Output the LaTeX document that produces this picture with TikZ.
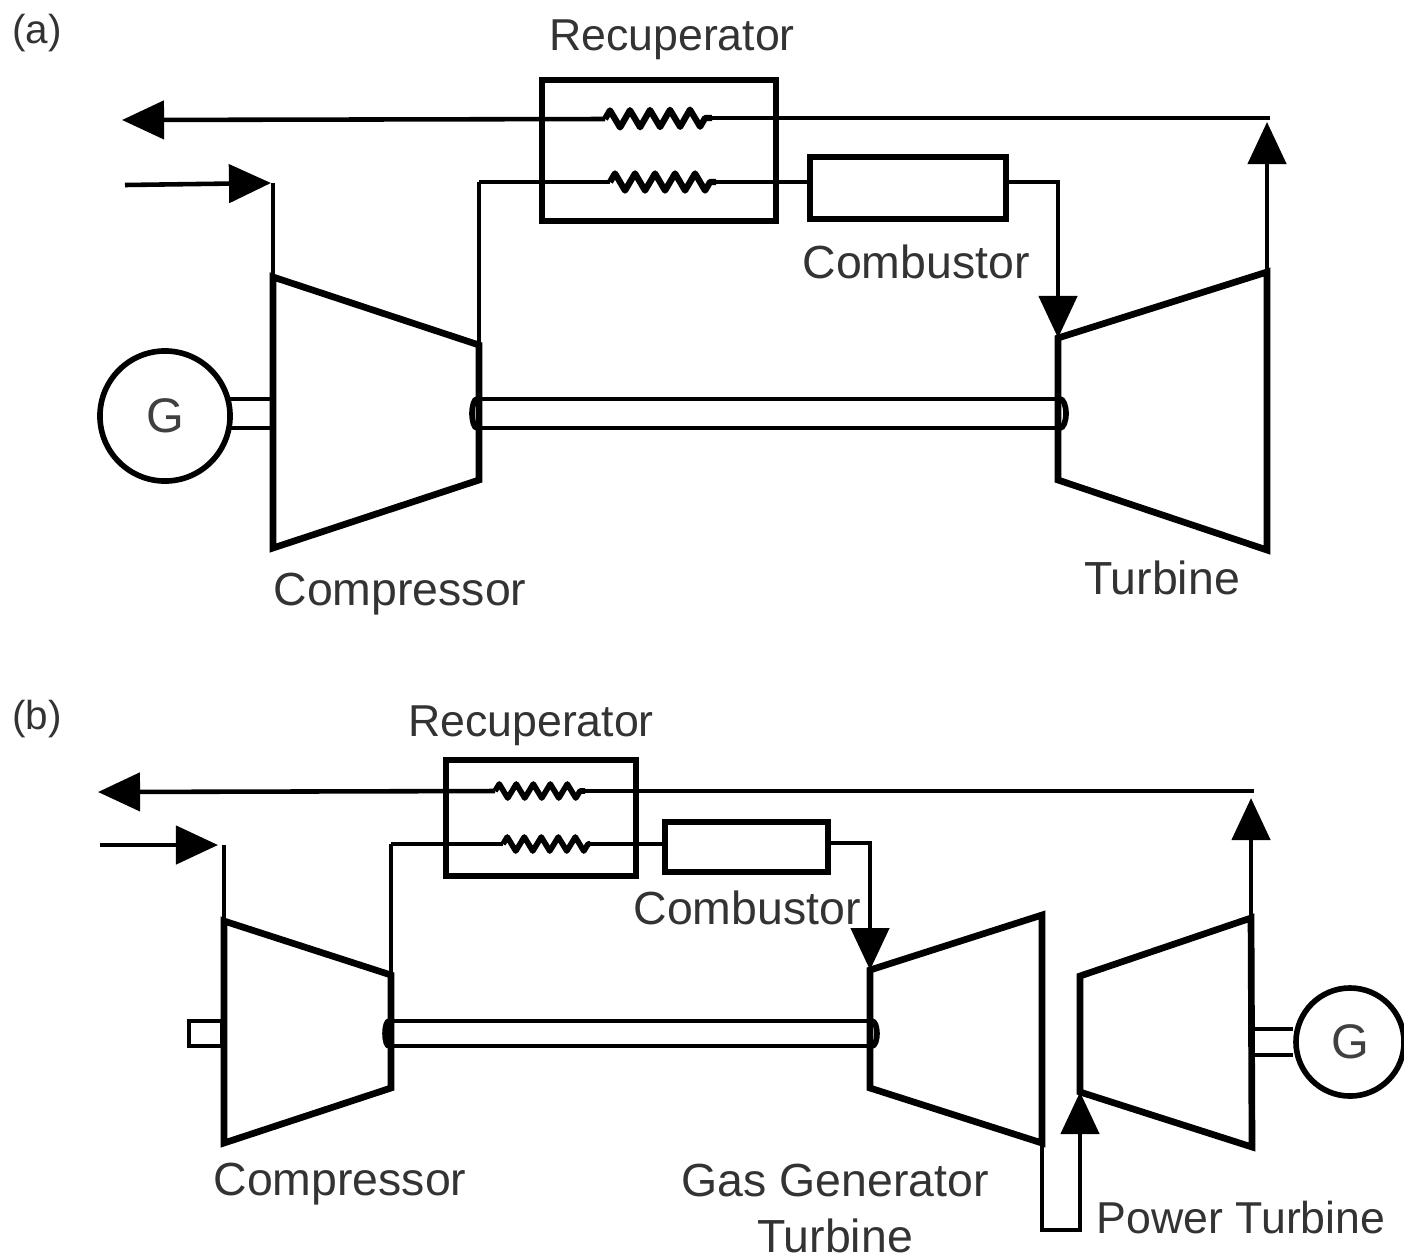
\documentclass[tikz,border=0pt]{standalone}
\usepackage{fontspec}
\setmainfont{Liberation Sans}
\usetikzlibrary{arrows.meta, decorations.pathmorphing}

\begin{document}
\begin{tikzpicture}
  [x=.01cm,y=-.01cm,
   tag/.style={font=\fontsize{13.2}{15}\selectfont,text=black!80,inner sep=0pt},
   tagsm/.style={tag,font=\fontsize{12.7}{15}\selectfont},
   panel/.style={tag,font=\fontsize{11.5}{15}\selectfont},
   pipe/.style={line width=1.3pt},
   casing/.style={line width=1.9pt,line join=miter},
   stub/.style={line width=1.2pt},
   blob/.style={line width=1.6pt},
   flow/.style={pipe,-{Triangle[length=.42cm,width=.38cm]}},
   coil/.style={line width=1.8pt,line join=round,decorate,
     decoration={zigzag,segment length=.2cm,amplitude=.085cm}},
   coilsm/.style={coil,line width=1.6pt,
     decoration={zigzag,segment length=.17cm,amplitude=.07cm}},
   box/.style={draw,line width=1.9pt,inner sep=0pt},
   gen/.style={draw,circle,line width=1.6pt,inner sep=0pt,text=black!75,
     font=\fontsize{13.8}{15}\selectfont}]
  \useasboundingbox (0,0) rectangle (1404,1257);

  % (a)
  \node[panel] (la) at (37,33) {(a)};
  \node[tagsm] (recupa) at (672,40) {Recuperator};
  \node[tag] (combua) at (916,262) {Combustor};
  \node[tag] (compa) at (400,594) {Compressor};
  \node[tag] (turba) at (1162,578) {Turbine};
  \node[box,minimum width=2.34cm,minimum height=1.41cm] (hxa) at (659,150.5) {};
  \node[box,minimum width=1.96cm,minimum height=.62cm] (cba) at (908,188) {};
  \node[gen,minimum size=1.3cm] (ga) at (165,416) {G};

  \coordinate (a1) at (273,277);
  \coordinate (a2) at (479,345);
  \coordinate (a3) at (479,480);
  \coordinate (a4) at (273,548);
  \coordinate (a5) at (1058,338);
  \coordinate (a6) at (1267,272);
  \coordinate (a7) at (1267,550);
  \coordinate (a8) at (1058,480);
  \draw[casing] (a1) -- (a2) -- (a3) -- (a4) -- cycle;
  \draw[casing] (a5) -- (a6) -- (a7) -- (a8) -- cycle;

  \coordinate (ain) at (125,185);
  \coordinate (aint) at (271,183);
  \coordinate (ainb) at (273,183);
  \coordinate (aout) at (122,120);
  \coordinate (acl) at (605,119);
  \coordinate (acr) at (712,118);
  \coordinate (ajn) at (1270,118);
  \coordinate (aup) at (1267,122);
  \coordinate (abl) at (479,182);
  \coordinate (adl) at (610,182);
  \coordinate (adr) at (716,182);
  \coordinate (acbi) at (810,182);
  \coordinate (acbx) at (1006,182);
  \coordinate (acbo) at (1058,182);
  \draw[flow] (ain) -- (aint);
  \draw[flow] (acl) -- (aout);
  \draw[flow] (a6) -- (aup);
  \draw[flow] (acbx) -- (acbo) -- (a5);
  \draw[coil] (acl) -- (acr);
  \draw[coil] (adl) -- (adr);
  \foreach \src/\dst in {ainb/a1,acr/ajn,a2/abl,abl/adl,adr/acbi}
    \draw[pipe,line cap=square] (\src) -- (\dst);

  % shaft
  \draw[stub] (479,399) -- (1058,399);
  \draw[stub] (479,428) -- (1058,428);
  \draw[blob] (477,399) arc[start angle=90,end angle=270,x radius=5,y radius=-14.5];
  \draw[blob] (1060,399) arc[start angle=90,end angle=-90,x radius=6,y radius=-14.5];
  \draw[stub] (ga.east |- 0,399) ++(-6,0) -- (273,399);
  \draw[stub] (ga.east |- 0,428) ++(-6,0) -- (273,428);

  % (b)
  \node[panel] (lb) at (37,719) {(b)};
  \node[tagsm] (recupb) at (531,726) {Recuperator};
  \node[tag] (combub) at (747,908) {Combustor};
  \node[tag] (compb) at (340,1184) {Compressor};
  \node[tag] (ggt) at (835,1180) {Gas Generator};
  \node[tag] (ggtb) at (835,1236) {Turbine};
  \node[tagsm] (pt) at (1241,1218) {Power Turbine};
  \node[box,minimum width=1.9cm,minimum height=1.16cm] (hxb) at (541,818) {};
  \node[box,minimum width=1.63cm,minimum height=.5cm] (cbb) at (746.5,847) {};
  \node[gen,minimum size=1.08cm] (gb) at (1350,1042) {G};
  \node[draw,stub,minimum width=.33cm,minimum height=.25cm,inner sep=0pt] (stb) at (205.5,1033.5) {};

  \coordinate (b1) at (224,921);
  \coordinate (b2) at (391,975);
  \coordinate (b3) at (391,1088);
  \coordinate (b4) at (224,1143);
  \coordinate (b5) at (870,970);
  \coordinate (b6) at (1042,915);
  \coordinate (b7) at (1042,1143);
  \coordinate (b8) at (870,1088);
  \coordinate (b9) at (1080,976);
  \coordinate (b10) at (1251,918);
  \coordinate (b11) at (1252,1147);
  \coordinate (b12) at (1080,1092);
  \draw[casing] (b1) -- (b2) -- (b3) -- (b4) -- cycle;
  \draw[casing] (b5) -- (b6) -- (b7) -- (b8) -- cycle;
  \draw[casing] (b9) -- (b10) -- (b11) -- (b12) -- cycle;

  \coordinate (bin) at (100,845);
  \coordinate (bint) at (218,845);
  \coordinate (binb) at (224,845);
  \coordinate (bout) at (98,792);
  \coordinate (bcl) at (495,791);
  \coordinate (bcr) at (585,791);
  \coordinate (bjn) at (1254,791);
  \coordinate (bup) at (1251,798);
  \coordinate (bbl) at (391,844);
  \coordinate (bdl) at (503,844);
  \coordinate (bdr) at (590,844);
  \coordinate (bcbi) at (665,844);
  \coordinate (bcbx) at (828,843);
  \coordinate (bcbo) at (870,843);
  \coordinate (bd1) at (1042,1230);
  \coordinate (bd2) at (1080,1230);
  \draw[flow] (bin) -- (bint);
  \draw[flow] (bcl) -- (bout);
  \draw[flow] (b10) -- (bup);
  \draw[flow] (bcbx) -- (bcbo) -- (b5);
  \draw[flow] (b7) -- (bd1) -- (bd2) -- (b12);
  \draw[coilsm] (bcl) -- (bcr);
  \draw[coilsm] (bdl) -- (bdr);
  \foreach \src/\dst in {binb/b1,bcr/bjn,b2/bbl,bbl/bdl,bdr/bcbi}
    \draw[pipe,line cap=square] (\src) -- (\dst);

  % shaft
  \draw[stub] (391,1021) -- (870,1021);
  \draw[stub] (391,1046) -- (870,1046);
  \draw[blob] (389,1021) arc[start angle=90,end angle=270,x radius=4,y radius=-12.5];
  \draw[blob] (872,1021) arc[start angle=90,end angle=-90,x radius=5,y radius=-12.5];
  \draw[stub] (b10 |- 0,1029) -- (gb.west |- 0,1029);
  \draw[stub] (b10 |- 0,1055) -- (gb.west |- 0,1055);

\end{tikzpicture}
\end{document}
